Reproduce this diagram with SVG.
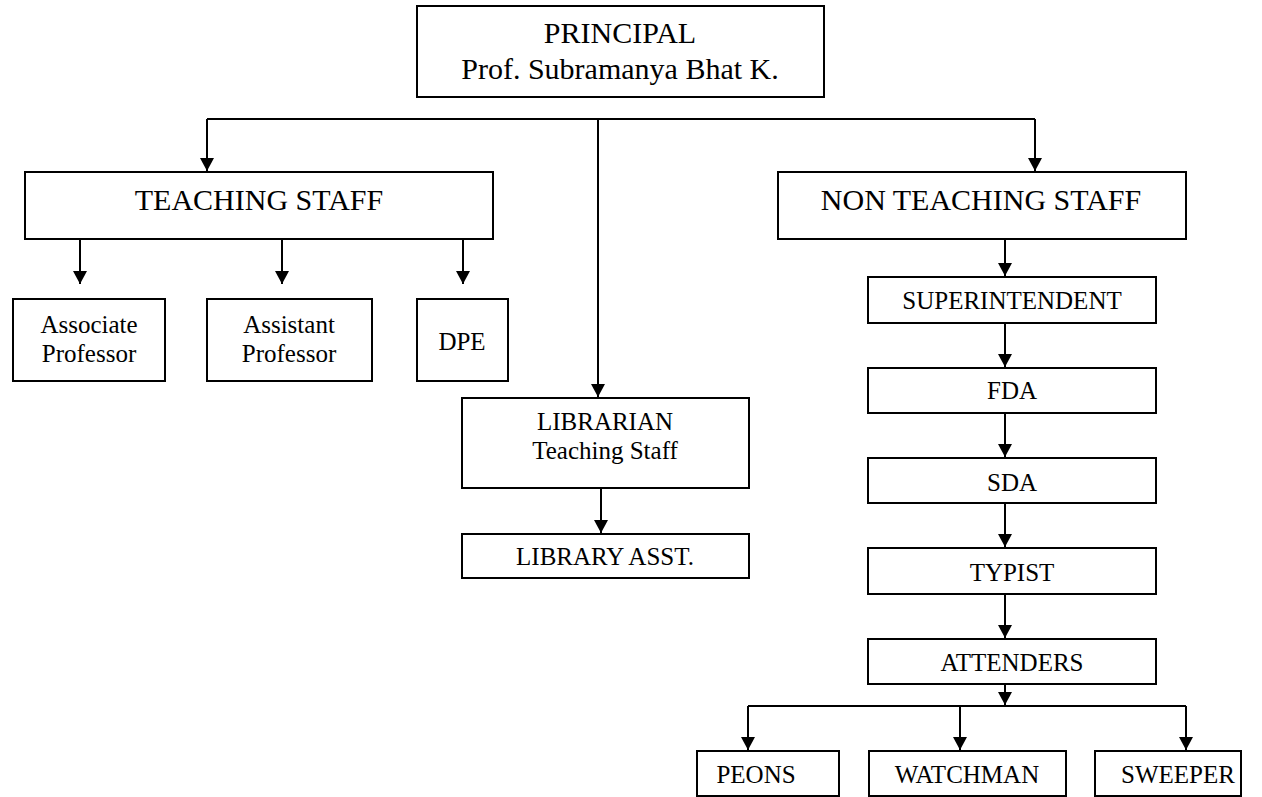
<svg xmlns="http://www.w3.org/2000/svg" width="1262" height="797" viewBox="0 0 1262 797">
<style>
rect.box{fill:#fff;stroke:#000;stroke-width:2}
text{font-family:"Liberation Serif","Times New Roman",serif;fill:#000;text-anchor:middle}
text.big{font-size:30px}
text.sm{font-size:25px}
#connectors path{fill:none;stroke:#000;stroke-width:2}
</style>
<defs>
<marker id="ah" markerUnits="userSpaceOnUse" markerWidth="14" markerHeight="14" refX="13" refY="7" orient="auto">
<path d="M0,0 L13,7 L0,14 z" fill="#000"/>
</marker>
</defs>
<rect width="1262" height="797" fill="#fff"/>
<g id="connectors">
<path d="M207,119 L1035,119"/>
<path d="M207,119 L207,171" marker-end="url(#ah)"/>
<path d="M1035,119 L1035,171" marker-end="url(#ah)"/>
<path d="M598,119 L598,397" marker-end="url(#ah)"/>
<path d="M80,240 L80,284" marker-end="url(#ah)"/>
<path d="M282,240 L282,284" marker-end="url(#ah)"/>
<path d="M463,240 L463,284" marker-end="url(#ah)"/>
<path d="M601,488 L601,533" marker-end="url(#ah)"/>
<path d="M1005,231 L1005,276" marker-end="url(#ah)"/>
<path d="M1005,323 L1005,367" marker-end="url(#ah)"/>
<path d="M1005,413 L1005,457" marker-end="url(#ah)"/>
<path d="M1005,503 L1005,547" marker-end="url(#ah)"/>
<path d="M1005,594 L1005,638" marker-end="url(#ah)"/>
<path d="M1005,684 L1005,705" marker-end="url(#ah)"/>
<path d="M748,706 L1186,706"/>
<path d="M748,706 L748,750" marker-end="url(#ah)"/>
<path d="M960,706 L960,750" marker-end="url(#ah)"/>
<path d="M1186,706 L1186,750" marker-end="url(#ah)"/>
</g>
<g id="principal">
<rect class="box" x="417" y="6" width="407" height="91"/>
<text class="big" x="620" y="43">PRINCIPAL</text>
<text class="big" x="620" y="79">Prof. Subramanya Bhat K.</text>
</g>
<g id="teaching-staff">
<rect class="box" x="25" y="172" width="468" height="67"/>
<text class="big" x="259" y="210">TEACHING STAFF</text>
</g>
<g id="non-teaching-staff">
<rect class="box" x="778" y="172" width="408" height="67"/>
<text class="big" x="981" y="210">NON TEACHING STAFF</text>
</g>
<g id="associate-professor">
<rect class="box" x="13" y="299" width="152" height="82"/>
<text class="sm" x="89" y="333">Associate</text>
<text class="sm" x="89" y="362">Professor</text>
</g>
<g id="assistant-professor">
<rect class="box" x="207" y="299" width="165" height="82"/>
<text class="sm" x="289" y="333">Assistant</text>
<text class="sm" x="289" y="362">Professor</text>
</g>
<g id="dpe">
<rect class="box" x="417" y="299" width="91" height="82"/>
<text class="sm" x="462" y="350">DPE</text>
</g>
<g id="librarian">
<rect class="box" x="462" y="398" width="287" height="90"/>
<text class="sm" x="605" y="430">LIBRARIAN</text>
<text class="sm" x="605" y="459">Teaching Staff</text>
</g>
<g id="library-asst">
<rect class="box" x="462" y="534" width="287" height="44"/>
<text class="sm" x="605" y="565">LIBRARY ASST.</text>
</g>
<g id="superintendent">
<rect class="box" x="868" y="277" width="288" height="46"/>
<text class="sm" x="1012" y="309">SUPERINTENDENT</text>
</g>
<g id="fda">
<rect class="box" x="868" y="368" width="288" height="45"/>
<text class="sm" x="1012" y="399">FDA</text>
</g>
<g id="sda">
<rect class="box" x="868" y="458" width="288" height="45"/>
<text class="sm" x="1012" y="491">SDA</text>
</g>
<g id="typist">
<rect class="box" x="868" y="548" width="288" height="46"/>
<text class="sm" x="1012" y="581">TYPIST</text>
</g>
<g id="attenders">
<rect class="box" x="868" y="639" width="288" height="45"/>
<text class="sm" x="1012" y="671">ATTENDERS</text>
</g>
<g id="peons">
<rect class="box" x="697" y="751" width="142" height="45"/>
<text class="sm" x="756" y="783">PEONS</text>
</g>
<g id="watchman">
<rect class="box" x="869" y="751" width="197" height="45"/>
<text class="sm" x="967" y="783">WATCHMAN</text>
</g>
<g id="sweeper">
<rect class="box" x="1095" y="751" width="146" height="45"/>
<text class="sm" x="1178" y="783">SWEEPER</text>
</g>
</svg>
